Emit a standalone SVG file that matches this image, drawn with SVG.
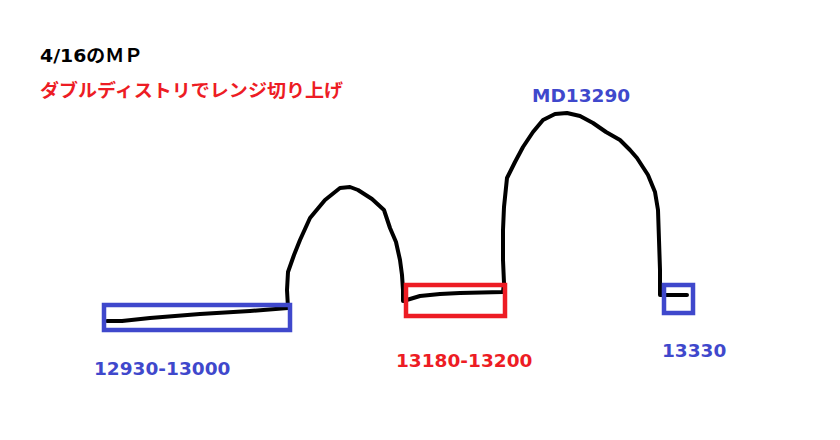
<svg xmlns="http://www.w3.org/2000/svg" width="840" height="440" viewBox="0 0 840 440">
<style>
.box{fill:none;stroke-width:4.5}
.blue{stroke:#3F48CC}
.red{stroke:#ED1C24}
.lbl{font-family:"DejaVu Sans","Noto Sans CJK JP",sans-serif;font-weight:bold;font-size:18.5px}
.tb{fill:#3F48CC}
.tr{fill:#ED1C24}
.curve{fill:none;stroke:#000;stroke-width:4;stroke-linejoin:round;stroke-linecap:round}
</style>
<rect width="840" height="440" fill="#fff"/>
<g id="title">
<text x="40" y="62" class="lbl" fill="#000" textLength="103" lengthAdjust="spacingAndGlyphs">4/16のＭＰ</text>
<text x="40" y="97" font-family="'Noto Sans CJK JP',sans-serif" font-weight="bold" font-size="18" fill="#ED1C24" textLength="303" lengthAdjust="spacingAndGlyphs">ダブルディストリでレンジ切り上げ</text>
</g>
<g id="connectors">
<path class="curve" d="M107,321 L122,321 L150,318 L200,314 L250,311 L288,308 L287,290 L288,272 L294,255 L300,240 L310,218 L325,200 L340,188 L350,187 L358,190 L372,199 L384,210 L390,228 L396,242 L400,260 L402,275 L403,290 L403,301 L410,299 L420,296 L440,294 L460,293 L503,292 L504,283 L503,260 L503,230 L504,207 L507,178 L515,162 L523,147 L533,132 L543,120 L555,114 L567,113 L580,116 L593,123 L606,132 L620,140 L630,150 L637,158 L648,175 L655,192 L658,210 L659,240 L660,270 L660,295 L687,295"/>
</g>
<g id="range1">
<rect class="box blue" x="104" y="305" width="186" height="25"/>
<text x="94" y="375" class="lbl tb">12930-13000</text>
</g>
<g id="range2">
<rect class="box red" x="406" y="285" width="99" height="31"/>
<text x="396" y="367" class="lbl tr">13180-13200</text>
</g>
<g id="md">
<text x="532" y="102" class="lbl tb">MD13290</text>
</g>
<g id="target">
<rect class="box blue" x="664" y="285" width="29" height="28"/>
<text x="662" y="357" class="lbl tb">13330</text>
</g>
</svg>
